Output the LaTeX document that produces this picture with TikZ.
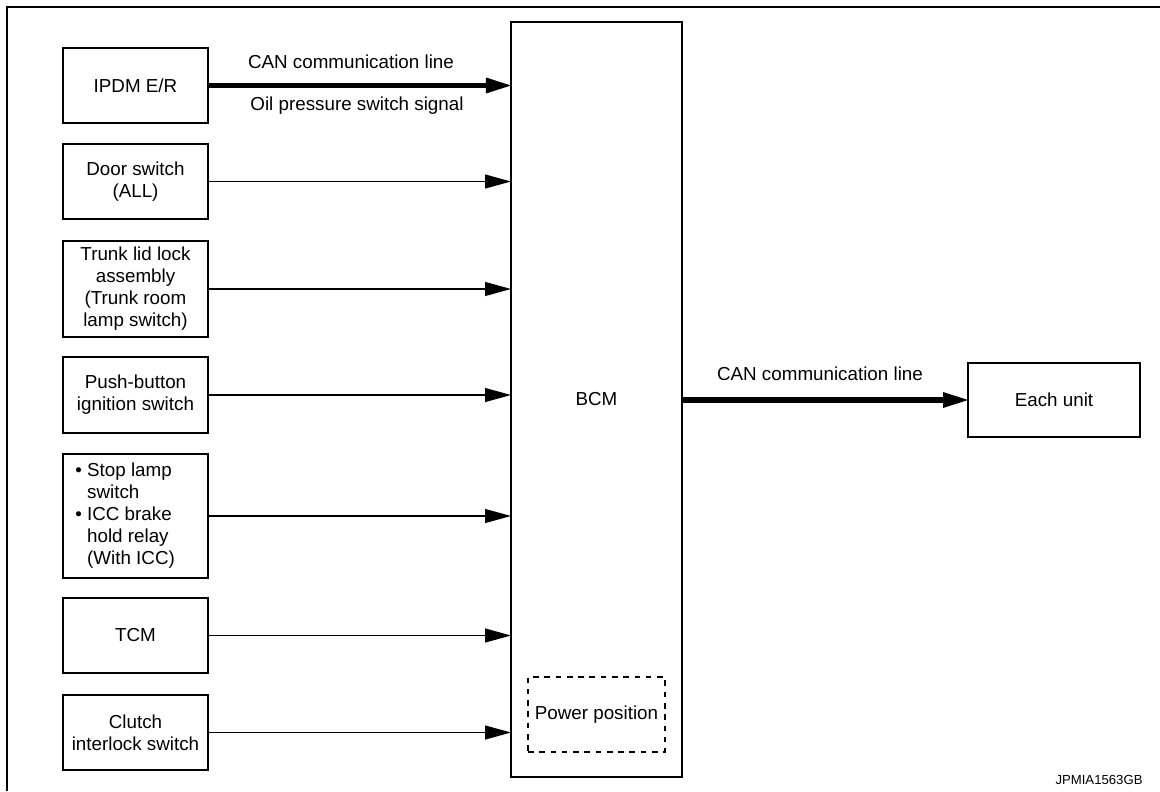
\documentclass[tikz,border=0pt]{standalone}
\usepackage{fontspec}
\setmainfont{Liberation Sans}
\usetikzlibrary{arrows.meta}
\newcommand{\boxfont}{\fontsize{10}{11.7}\selectfont}

\tikzset{
  unitbox/.style={draw, line width=0.75pt, inner sep=0pt, outer sep=0pt,
    align=center, font=\boxfont, minimum width=77.1pt, minimum height=39.9pt},
  sigline/.style={line width=0.75pt, -{Triangle[length=13.8pt,width=7.6pt,line width=0pt]}},
  canline/.style={line width=2.7pt, -{Triangle[length=13.3pt,width=8.5pt,line width=0pt]}},
  lbl/.style={inner sep=0pt, font=\boxfont},
}

\begin{document}
\begin{tikzpicture}[x=0.532pt, y=-0.532pt]
        \useasboundingbox (0,0) rectangle (1160,791);
        \draw [line width=1.3pt] (7,791) -- (7,7) -- (1160,7);
        % inputs
        \node [unitbox] (ipdm) at (135.5,85.5) {IPDM E/R};
        \node [unitbox] (doorSw) at (135.5,181.5) {Door switch\\(ALL)};
        \node [unitbox, minimum height=51.1pt] (trunkLid) at (135.5,289) {Trunk lid lock\\assembly\\(Trunk room\\lamp switch)};
        \node [unitbox, minimum height=40.4pt] (pushBtn) at (135.5,395) {Push-button\\ignition switch};
        \node [unitbox, minimum height=66pt, align=flush left, text width=64pt] (stopLamp) at (135.5,516)
              {\textbullet\ Stop lamp\\\phantom{\textbullet\ }switch\\\textbullet\ ICC brake\\\phantom{\textbullet\ }hold relay\\\phantom{\textbullet\ }(With ICC)};
        \node [unitbox] (tcm) at (135.5,635.5) {TCM};
        \node [unitbox] (clutchSw) at (135.5,732.5) {Clutch\\interlock switch};
        % BCM and output
        \node [unitbox, minimum width=91pt, minimum height=401.7pt] (bcm) at (596.5,399.5) {BCM};
        \node [unitbox, dashed, minimum width=72.9pt] (powerPos) at (596.5,714.5) {Power position};
        \node [unitbox, minimum width=91.5pt, minimum height=39.4pt] (eachUnit) at (1054,400) {Each unit};
        % connectors
        \draw [canline] (ipdm.east) -- (ipdm.east -| bcm.west);
        \draw [sigline] (doorSw.east) -- (doorSw.east -| bcm.west);
        \draw [sigline] (trunkLid.east) -- (trunkLid.east -| bcm.west);
        \draw [sigline] (pushBtn.east) -- (pushBtn.east -| bcm.west);
        \draw [sigline] (stopLamp.east) -- (stopLamp.east -| bcm.west);
        \draw [sigline] (tcm.east) -- (tcm.east -| bcm.west);
        \draw [sigline] (clutchSw.east) -- (clutchSw.east -| bcm.west);
        \draw [canline] (eachUnit.west -| bcm.east) -- (eachUnit.west);
        % labels
        \node [lbl, anchor=base] (canIn) at (351,68) {CAN communication line};
        \node [lbl, anchor=base] (oilSig) at (357,110) {Oil pressure switch signal};
        \node [lbl, anchor=base] (canOut) at (820,380) {CAN communication line};
        \node [inner sep=0pt, font=\fontsize{7}{8}\selectfont] (figId) at (1099,780) {JPMIA1563GB};
      \end{tikzpicture}
\end{document}
